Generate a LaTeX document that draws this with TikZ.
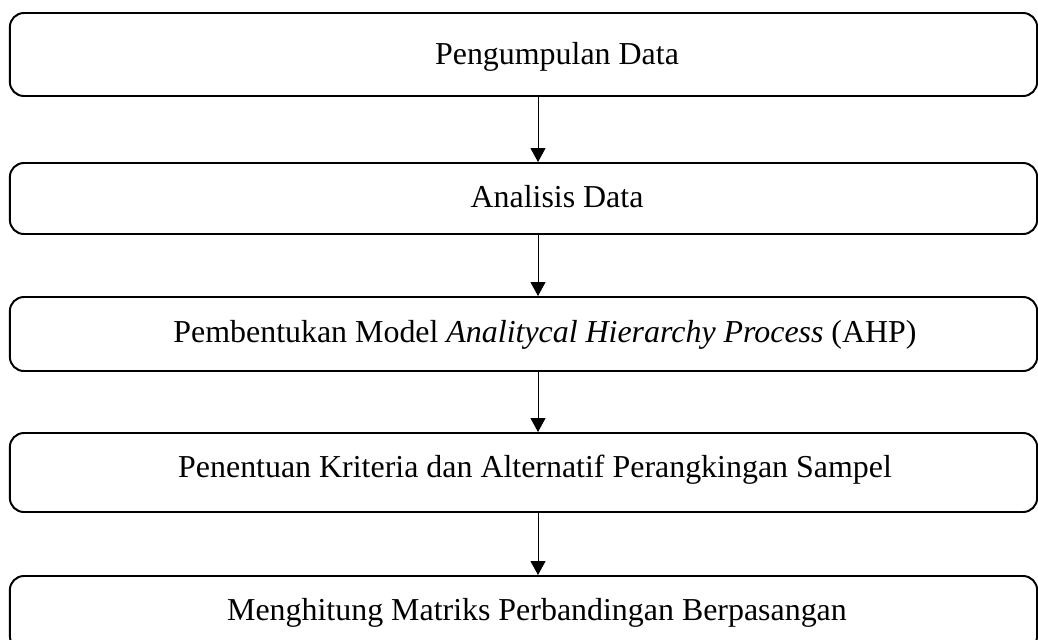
\documentclass[tikz,border=0pt]{standalone}
\usepackage{fontspec}
\setmainfont{Liberation Serif}
\usepackage{tikz}
\usetikzlibrary{arrows.meta}

\begin{document}
\begin{tikzpicture}[x=0.025cm, y=-0.025cm,
                    every node/.style={font=\fontsize{22.7}{27}\selectfont},
                    stepbox/.style={draw,line width=1.4pt,rounded corners=10pt,
                                    minimum width=25.675cm,inner sep=0pt},
                    flow/.style={-{Triangle[length=14*0.025cm,width=15*0.025cm]},line width=0.7pt}]
  \useasboundingbox (0,0) rectangle (1038,639);
  \coordinate (axis) at (538,0);
  % boxes
  \node[stepbox,minimum height=83*0.025cm] (pengumpulan) at (523.5,54.5) {};
  \node[stepbox,minimum height=71*0.025cm] (analisis) at (523.5,198.5) {};
  \node[stepbox,minimum height=74*0.025cm] (model) at (523.5,334) {};
  \node[stepbox,minimum height=79*0.025cm] (kriteria) at (523.5,472.5) {};
  \node[stepbox,minimum height=74*0.025cm] (matriks) at (523.5,613) {};
  % texts
  \node[anchor=base] (t1) at (557,64) {Pengumpulan Data};
  \node[anchor=base] (t2) at (557,207) {Analisis Data};
  \node[anchor=base] (t3) at (545,342) {Pembentukan Model \textit{Analitycal Hierarchy Process} (AHP)};
  \node[anchor=base] (t4) at (535,477) {Penentuan Kriteria dan Alternatif Perangkingan Sampel};
  \node[anchor=base] (t5) at (537,620) {Menghitung Matriks Perbandingan Berpasangan};
  % arrows
  \draw[flow] (pengumpulan.south -| axis) -- (analisis.north -| axis);
  \draw[flow] (analisis.south -| axis) -- (model.north -| axis);
  \draw[flow] (model.south -| axis) -- (kriteria.north -| axis);
  \draw[flow] (kriteria.south -| axis) -- (matriks.north -| axis);
\end{tikzpicture}
\end{document}
